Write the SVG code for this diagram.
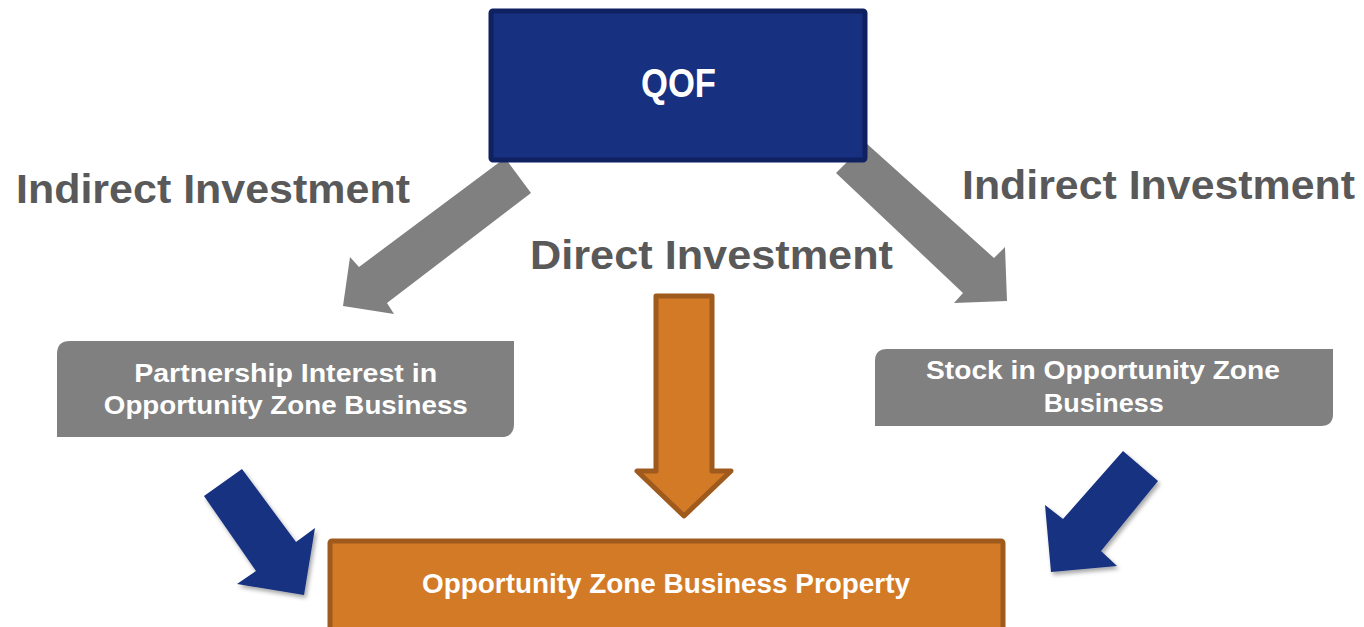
<svg xmlns="http://www.w3.org/2000/svg" width="1364" height="627" viewBox="0 0 1364 627">
  <defs>
    <style>
      .lbl { font-family: "Liberation Sans", Arial, sans-serif; font-weight: bold; fill: #595959; font-size: 40px; text-anchor: middle; }
      .wt { font-family: "Liberation Sans", Arial, sans-serif; font-weight: bold; fill: #ffffff; text-anchor: middle; }
      .garrow { fill: #808080; }
      .barrow { fill: #183080; filter: url(#shadow); }
      .oarrow { fill: #d37a27; stroke: #9f5a1e; stroke-width: 5; stroke-linejoin: round; }
      .gbox { fill: #808080; }
    </style>
    <filter id="shadow" x="-20%" y="-20%" width="150%" height="150%">
      <feDropShadow dx="2" dy="3" stdDeviation="2" flood-color="#000000" flood-opacity="0.35"/>
    </filter>
  </defs>
  <rect width="1364" height="627" fill="#ffffff"/>

  <g id="connectors">
    <polygon class="garrow" points="505,158 531,193 387,303 394,314 343,306 350,257 359,267"/>
    <polygon class="garrow" points="866,143 836,173 963,293 954,303 1007,301 1005,247 994,258"/>
    <polygon class="oarrow" points="656,296 712,296 712,471 731,471 684,516 637,471 656,471"/>
    <polygon class="barrow" points="242,469 296,542 315,528 304,595 237,584 256,571 204,496"/>
    <polygon class="barrow" points="1123,451 1158,481 1101,551 1117,566 1051,572 1045,505 1063,519"/>
  </g>

  <g id="label-indirect-left">
    <text class="lbl" x="213" y="203" textLength="394" lengthAdjust="spacingAndGlyphs">Indirect Investment</text>
  </g>
  <g id="label-indirect-right">
    <text class="lbl" x="1158.5" y="199" textLength="393" lengthAdjust="spacingAndGlyphs">Indirect Investment</text>
  </g>
  <g id="label-direct">
    <text class="lbl" x="711.5" y="269" textLength="363" lengthAdjust="spacingAndGlyphs">Direct Investment</text>
  </g>

  <g id="qof">
    <rect x="491" y="11" width="374" height="149" rx="2" fill="#183080" stroke="#0f2160" stroke-width="5"/>
    <text class="wt" x="678.5" y="97" font-size="40" textLength="75" lengthAdjust="spacingAndGlyphs">QOF</text>
  </g>

  <g id="partnership">
    <path class="gbox" d="M70,341 H514 V424 Q514,437 501,437 H57 V354 Q57,341 70,341 Z"/>
    <text class="wt" x="285.7" y="382" font-size="26" textLength="303" lengthAdjust="spacingAndGlyphs">Partnership Interest in</text>
    <text class="wt" x="285.8" y="414" font-size="26" textLength="364" lengthAdjust="spacingAndGlyphs">Opportunity Zone Business</text>
  </g>

  <g id="stock">
    <path class="gbox" d="M887,349 H1333 V414 Q1333,426 1321,426 H875 V361 Q875,349 887,349 Z"/>
    <text class="wt" x="1103" y="379" font-size="26" textLength="354" lengthAdjust="spacingAndGlyphs">Stock in Opportunity Zone</text>
    <text class="wt" x="1103.7" y="412" font-size="26" textLength="120" lengthAdjust="spacingAndGlyphs">Business</text>
  </g>

  <g id="property">
    <rect x="330" y="541" width="673" height="100" rx="2" fill="#d37a27" stroke="#9f5a1e" stroke-width="5"/>
    <text class="wt" x="666" y="593" font-size="28" textLength="488" lengthAdjust="spacingAndGlyphs">Opportunity Zone Business Property</text>
  </g>
</svg>
